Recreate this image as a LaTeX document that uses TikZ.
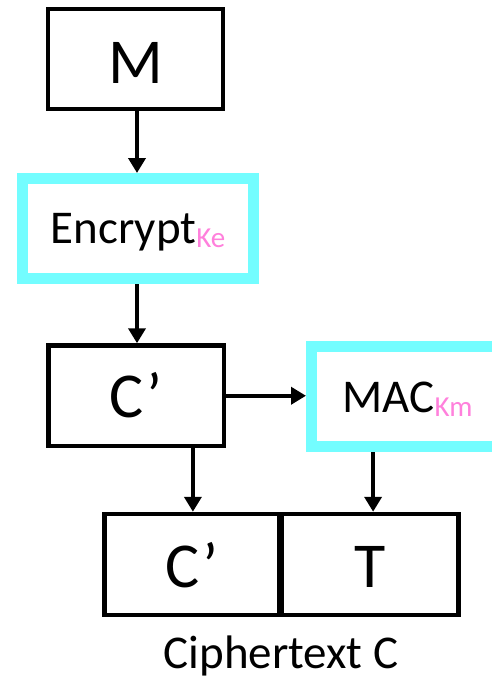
\documentclass[tikz,border=0pt]{standalone}
\usepackage{fontspec}
\setmainfont{Carlito}
\usetikzlibrary{arrows.meta}
\definecolor{keycyan}{RGB}{115,253,255}
\definecolor{keypink}{RGB}{255,128,220}
\tikzset{
  plainbox/.style={draw=black, line width=4.5pt, inner sep=0pt,
    font=\fontsize{64}{64}\selectfont, text depth=0pt},
  keybox/.style={draw=keycyan, line width=11pt, inner sep=0pt,
    font=\fontsize{47}{47}\selectfont, text depth=0pt},
  flow/.style={line width=4pt, -{Triangle[length=15pt,width=17pt]}},
}
% key name set small, pink and lowered after an operation name
\newcommand{\keysub}[1]{\raisebox{-4pt}{\fontsize{29}{29}\selectfont\color{keypink}#1}}
\begin{document}
\begin{tikzpicture}[x=1pt,y=-1pt]
  \clip (0,0) rectangle (492,680);
  \fill[white] (0,0) rectangle (492,680);

  % message, encryption and intermediate ciphertext
  \node[plainbox, minimum width=175pt, minimum height=100pt, text height=48pt] (M) at (135.5,59) {M};
  \node[keybox, minimum width=231pt, minimum height=100pt, text height=29pt] (enc) at (138,228.5) {Encrypt\keysub{Ke}};
  \node[plainbox, minimum width=175.5pt, minimum height=100.5pt, text height=44pt] (cp) at (136.25,395.75) {C’};
  \node[keybox, minimum width=192pt, minimum height=100pt, text height=31pt] (mac) at (407.5,396.5) {MAC\keysub{Km}};

  % final ciphertext: C' followed by tag T
  \node[plainbox, minimum width=175.25pt, minimum height=101pt, text height=45pt] (bl) at (191.9,564.5) {C’};
  \node[plainbox, minimum width=177.25pt, minimum height=101pt, text height=45pt] (br) at (370.1,564.5) {T};
  \node[font=\fontsize{47}{47}\selectfont, anchor=base, inner sep=0pt] (cap) at (281,668) {Ciphertext C};

  % data flow
  \draw[flow] ([xshift=1.5pt]M.south) -- ([xshift=1.5pt]M.south |- enc.north);
  \draw[flow] ([xshift=-1pt]enc.south) -- ([xshift=-1pt]enc.south |- cp.north);
  \draw[flow] (cp.east) -- (cp.east -| mac.west);
  \draw[flow] ([xshift=1pt]bl.north |- cp.south) -- ([xshift=1pt]bl.north);
  \draw[flow] ([xshift=3pt]br.north |- mac.south) -- ([xshift=3pt]br.north);
\end{tikzpicture}
\end{document}
